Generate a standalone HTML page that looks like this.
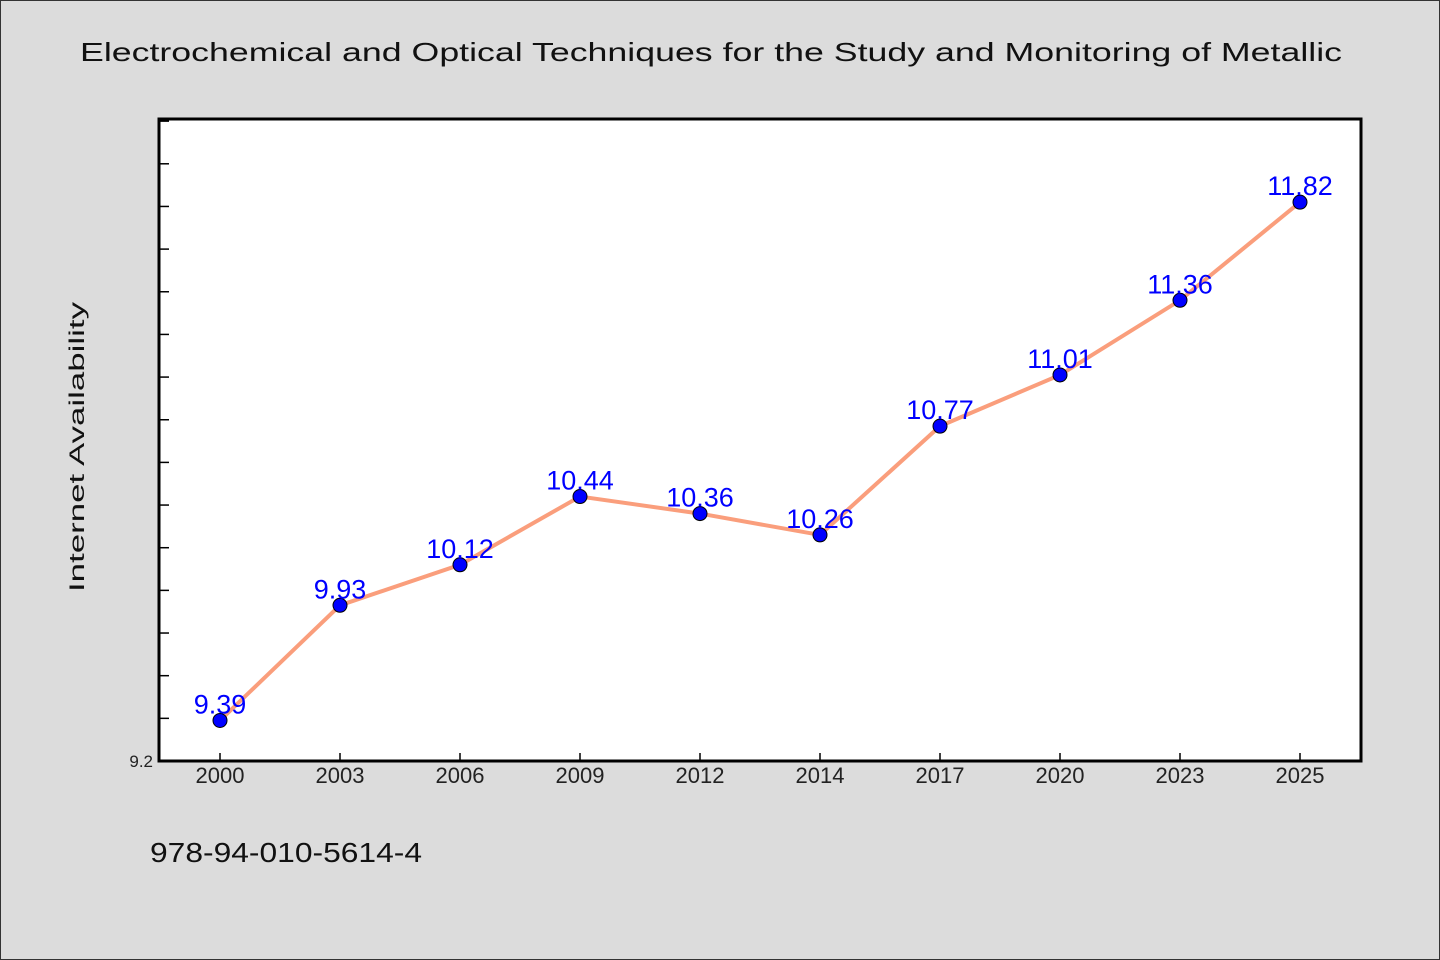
<!DOCTYPE html>
<html><head><meta charset="utf-8"><style>
body{margin:0;background:#dcdcdc}
svg{display:block}
text{font-family:"WenQuanYi Zen Hei","Liberation Sans",sans-serif}
</style></head><body>
<svg id="chart" width="1440" height="960" xmlns="http://www.w3.org/2000/svg">
<rect x="0.5" y="0.5" width="1439" height="959" fill="#dcdcdc" stroke="#333"/>
<text x="80" y="61" font-size="26" textLength="1262" lengthAdjust="spacingAndGlyphs" fill="#111">Electrochemical and Optical Techniques for the Study and Monitoring of Metallic</text>
<rect x="159" y="119" width="1202" height="642" fill="#fff"/>
<g id="yticks"></g><g id="xticks"></g><g id="series"></g>
<rect x="159" y="119" width="1202" height="642" fill="none" stroke="#000" stroke-width="3"/>
<text transform="translate(84,447) rotate(-90)" text-anchor="middle" font-size="21" textLength="290" lengthAdjust="spacingAndGlyphs" fill="#111">Internet Availability</text>
<text x="150" y="862" font-size="28" textLength="272" lengthAdjust="spacingAndGlyphs" fill="#111">978-94-010-5614-4</text>
</svg>
<script>
const categories=["2000","2003","2006","2009","2012","2014","2017","2020","2023","2025"];
const values=[9.39,9.93,10.12,10.44,10.36,10.26,10.77,11.01,11.36,11.82];
const yTickValues=[9.2,9.4,9.6,9.8,10.0,10.2,10.4,10.6,10.8,11.0,11.2,11.4,11.6,11.8,12.0,12.2];
const yTickLabels=["9.2"];
(function(){
const NS="http://www.w3.org/2000/svg";
const yMin=9.2,yMax=12.21,yTop=119,yBottom=761;
function y(v){return yBottom-(v-yMin)/(yMax-yMin)*(yBottom-yTop);}
function x(i){return 220+i*120;}
function mk(t,a,p){const e=document.createElementNS(NS,t);for(const k in a)e.setAttribute(k,a[k]);p.appendChild(e);return e;}
const yt=document.getElementById('yticks');
yTickValues.forEach(v=>{const l=mk('line',{x1:159,x2:169,y1:y(v),y2:y(v),stroke:'#000','stroke-width':1.5},yt);

});
const tl=mk('text',{x:153,y:y(9.2)+6,'text-anchor':'end','font-size':17,fill:'#222'},yt);tl.textContent=yTickLabels[0];


const xt=document.getElementById('xticks');
categories.forEach((c,i)=>{const l=mk('line',{x1:x(i),x2:x(i),y1:761,y2:753,stroke:'#000','stroke-width':1.5},xt);


const t=mk('text',{x:x(i),y:783,'text-anchor':'middle','font-size':22,fill:'#222'},xt);t.textContent=c;

});
const s=document.getElementById('series');
const pl=mk('polyline',{points:values.map((v,i)=>x(i)+','+y(v)).join(' '),fill:'none',stroke:'#fa9e7c','stroke-width':4},s);


values.forEach((v,i)=>{const c=mk('circle',{cx:x(i),cy:y(v),r:7,fill:'#0000ff',stroke:'#000','stroke-width':1},s);

});
values.forEach((v,i)=>{const t=mk('text',{x:x(i),y:y(v)-7,'text-anchor':'middle','font-size':27,fill:'#0000ff'},s);t.textContent=v.toFixed(2);

});
})();
</script>
</body></html>
